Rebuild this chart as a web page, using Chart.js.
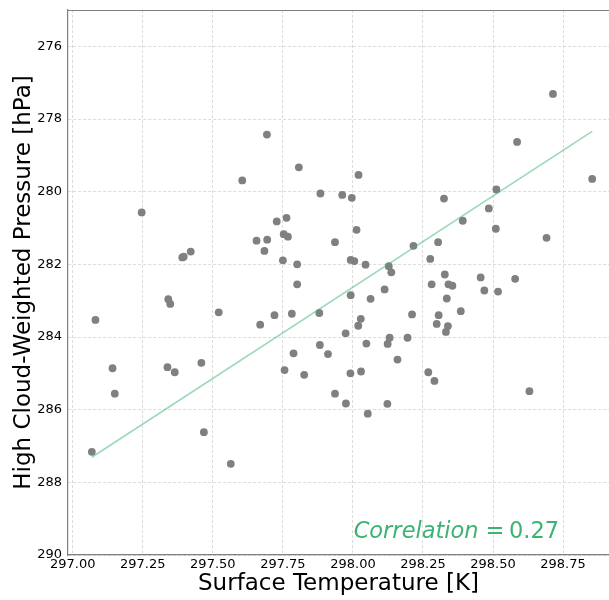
<!DOCTYPE html>
<html>
<head>
<meta charset="utf-8">
<script src="https://cdn.jsdelivr.net/npm/chart.js@4/dist/chart.umd.min.js"></script>
<style>
  html, body { margin: 0; padding: 0; background: #fff; }
  #wrap { width: 609px; height: 600px; }
</style>
</head>
<body>
<div id="wrap"><canvas id="scatter" width="609" height="600"></canvas></div>
<script>
// surface temperature [K] vs high cloud-weighted pressure [hPa]
const tempK = [
    297.068, 297.081, 297.142, 297.150, 297.246, 297.341, 297.348, 297.338, 297.364, 297.391,
    297.396, 297.421, 297.459, 297.468, 297.521, 297.564, 297.605, 297.656, 297.669, 297.684,
    297.694, 297.693, 297.728, 297.720, 297.750, 297.753, 297.763, 297.768, 297.756, 297.782,
    297.788, 297.801, 297.801, 297.807, 297.826, 297.880, 297.884, 297.882, 297.911, 297.936,
    297.936, 297.962, 297.975, 297.974, 297.991, 297.992, 297.996, 297.992, 298.005, 298.013,
    298.019, 298.020, 298.028, 298.029, 298.048, 298.045, 298.053, 298.063, 298.113, 298.123,
    298.124, 298.128, 298.137, 298.159, 298.195, 298.131, 298.211, 298.216, 298.269, 298.276,
    298.281, 298.291, 298.299, 298.304, 298.306, 298.325, 298.328, 298.335, 298.332, 298.339,
    298.341, 298.355, 298.385, 298.392, 298.456, 298.469, 298.485, 298.510, 298.512, 298.518,
    298.579, 298.586, 298.630, 298.691, 298.714, 298.854
]
const pressureHPa = [
    287.16, 283.53, 284.86, 285.56, 280.57, 282.96, 283.09, 284.83, 284.97, 281.81,
    281.79, 281.65, 284.71, 286.62, 283.32, 287.49, 279.69, 281.35, 283.66, 281.63,
    281.32, 278.43, 280.82, 283.40, 281.89, 281.17, 280.72, 281.24, 284.91, 283.36,
    284.45, 282.00, 282.55, 279.33, 285.04, 283.34, 280.05, 284.22, 284.47, 281.39,
    285.56, 280.09, 285.83, 283.90, 285.00, 282.85, 280.17, 281.88, 281.91, 281.05,
    283.69, 279.54, 283.50, 284.95, 284.18, 282.01, 286.11, 282.95, 282.69, 285.84,
    284.19, 282.05, 282.22, 284.62, 284.02, 284.02, 283.38, 281.49, 284.97, 281.85,
    282.55, 285.21, 283.64, 281.39, 283.40, 280.19, 282.28, 282.94, 283.86, 283.70,
    282.55, 282.59, 283.29, 280.80, 282.36, 282.72, 280.46, 281.02, 279.94, 282.75,
    282.40, 278.63, 285.49, 281.27, 277.31, 279.65
]

// least-squares fit, end points
const fitTemp = [297.068, 298.854]
const fitPressure = [287.31, 278.34]

const xTicks = [297.00, 297.25, 297.50, 297.75, 298.00, 298.25, 298.50, 298.75]
const yTicks = [276, 278, 280, 282, 284, 286, 288, 290]

const corrName = 'Correlation'
const corrValue = '0.27'

const FONT = "'DejaVu Sans', sans-serif"
const corrColor = '#3cb371'

function toPoints(xs, ys) {
    return xs.map((x, i) => ({ x: x, y: ys[i] }))
}

// top frame line (matplotlib spine) and the correlation note
const framePlugin = {
    id: 'frame',
    afterDraw(chart) {
        const { ctx, chartArea } = chart
        ctx.save()
        ctx.strokeStyle = '#808080'
        ctx.lineWidth = 1.2
        ctx.beginPath()
        ctx.moveTo(chartArea.left, chartArea.top + 0.5)
        ctx.lineTo(chartArea.right, chartArea.top + 0.5)
        ctx.stroke()

        let x = chartArea.left + 0.528 * (chartArea.right - chartArea.left)
        let y = chartArea.bottom - 17
        ctx.fillStyle = corrColor
        ctx.textBaseline = 'alphabetic'
        ctx.textAlign = 'left'
        ctx.font = 'italic 22.5px ' + FONT
        ctx.fillText(corrName, x, y)
        x += ctx.measureText(corrName).width + 7
        ctx.font = '22.5px ' + FONT
        ctx.fillText('=', x, y)
        x += ctx.measureText('=').width + 4.5
        ctx.fillText(corrValue, x, y)
        ctx.restore()
    }
}

// keep the plot box fixed: no extra room for overhanging tick labels
function noScalePadding(scale) {
    scale.paddingLeft = 0
    scale.paddingRight = 0
    scale.paddingTop = 0
    scale.paddingBottom = 0
}

new Chart(document.getElementById('scatter'), {
    type: 'scatter',
    data: {
        datasets: [
            {
                data: toPoints(fitTemp, fitPressure),
                showLine: true,
                borderColor: 'rgba(60, 179, 113, 0.5)',
                borderWidth: 1.6,
                pointRadius: 0,
                fill: false
            },
            {
                data: toPoints(tempK, pressureHPa),
                backgroundColor: '#808080',
                borderWidth: 0,
                pointRadius: 3.9
            }
        ]
    },
    options: {
        responsive: false,
        animation: false,
        devicePixelRatio: 1,
        layout: { autoPadding: false, padding: { top: 10, right: 0, left: 0, bottom: 0 } },
        plugins: {
            legend: { display: false },
            tooltip: { enabled: false }
        },
        scales: {
            x: {
                type: 'linear',
                min: 296.983,
                max: 298.914,
                afterBuildTicks: (scale) => { scale.ticks = xTicks.map(v => ({ value: v })) },
                afterFit: (scale) => { scale.height = 45; noScalePadding(scale) },
                ticks: {
                    color: '#000',
                    font: { family: FONT, size: 13 },
                    padding: 2,
                    maxRotation: 0,
                    autoSkip: false,
                    callback: (v) => v.toFixed(2)
                },
                grid: { color: '#d3d3d3', lineWidth: 0.8, drawTicks: false },
                border: { display: true, color: '#808080', width: 1.2, dash: [3, 2] },
                title: {
                    display: true,
                    text: 'Surface Temperature [K]',
                    color: '#000',
                    font: { family: FONT, size: 23 },
                    padding: { top: 0, bottom: 2 }
                }
            },
            y: {
                type: 'linear',
                reverse: true,
                min: 275,
                max: 290,
                afterBuildTicks: (scale) => { scale.ticks = yTicks.map(v => ({ value: v })) },
                afterFit: (scale) => { scale.width = 68; noScalePadding(scale) },
                ticks: {
                    color: '#000',
                    font: { family: FONT, size: 13 },
                    padding: 6,
                    autoSkip: false,
                    callback: (v) => String(v)
                },
                grid: { color: '#d3d3d3', lineWidth: 0.8, drawTicks: false },
                border: { display: true, color: '#808080', width: 1.2, dash: [3, 2] },
                title: {
                    display: true,
                    text: 'High Cloud-Weighted Pressure [hPa]',
                    color: '#000',
                    font: { family: FONT, size: 23 },
                    padding: { top: 10, bottom: 0 }
                }
            }
        }
    },
    plugins: [framePlugin]
})
</script>
</body>
</html>
